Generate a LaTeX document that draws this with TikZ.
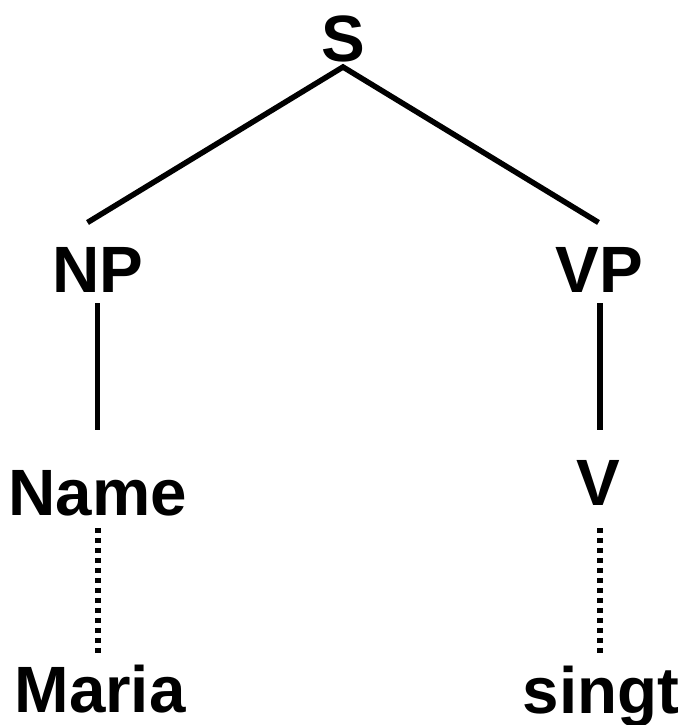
\documentclass[tikz,border=0pt]{standalone}
\usepackage{fontspec}
\setmainfont{Liberation Sans}
\tikzset{
  lbl/.style={inner sep=0pt, outer sep=0pt, anchor=base, font=\fontsize{65.5}{78}\selectfont\bfseries},
  branch/.style={line width=5.5pt, line cap=butt, line join=miter},
  dotline/.style={line width=6pt, line cap=butt, dash pattern=on 5pt off 5pt}
}
\begin{document}
\begin{tikzpicture}[x=1pt,y=-1pt]
\useasboundingbox (0,0) rectangle (681,725);
% labels
\node[lbl] (S) at (343,62) {S};
\node[lbl] (NP) at (97.5,292) {NP};
\node[lbl] (VP) at (599,292) {VP};
\node[lbl] (Name) at (97.5,515) {Name};
\node[lbl] (V) at (598.5,505) {V};
\node[lbl] (Maria) at (100,712) {Maria};
\node[lbl] (singt) at (601,713) {singt};
% connector end points
\coordinate (S-b) at (343,67);
\coordinate (NP-t) at (87.5,222.5);
\coordinate (VP-t) at (598.5,222.5);
\coordinate (NP-b) at (97.5,303);
\coordinate (Name-t) at (97.5,430);
\coordinate (VP-b) at (600,303);
\coordinate (V-t) at (600,430);
\coordinate (Name-b) at (97.5,528);
\coordinate (Maria-t) at (97.5,653);
\coordinate (V-b) at (599.5,528);
\coordinate (singt-t) at (599.5,653);
% connectors
\draw[branch] (NP-t) -- (S-b) -- (VP-t);
\draw[branch] (NP-b) -- (Name-t);
\draw[branch] (VP-b) -- (V-t);
\draw[dotline] (Name-b) -- (Maria-t);
\draw[dotline] (V-b) -- (singt-t);
\end{tikzpicture}
\end{document}
